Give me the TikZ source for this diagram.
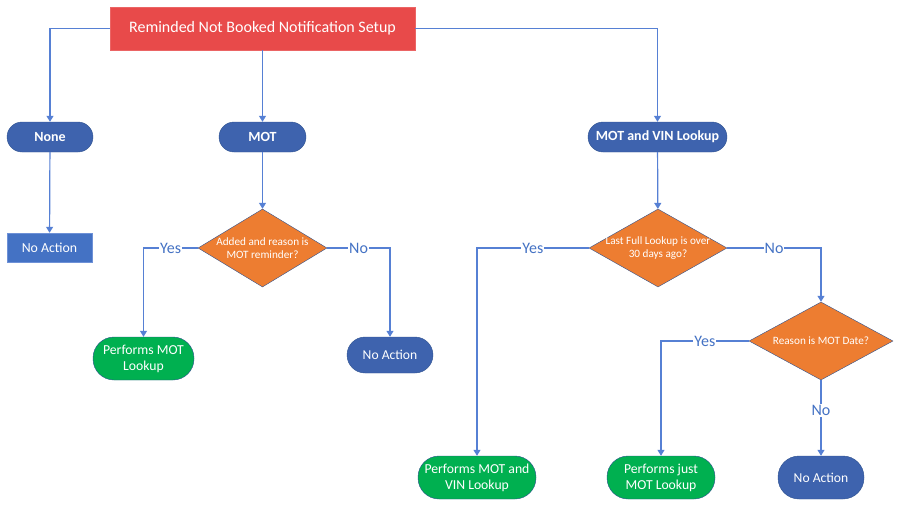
\documentclass[tikz,border=0pt]{standalone}
\usepackage{fontspec}
\setmainfont{Carlito}
\usetikzlibrary{arrows.meta,shapes.geometric}
\definecolor{redbox}{RGB}{232,74,74}
\definecolor{blueD}{RGB}{62,99,174}
\definecolor{blueR}{RGB}{68,114,196}
\definecolor{blueRb}{RGB}{110,145,215}
\definecolor{edgeB}{RGB}{47,82,143}
\definecolor{lineB}{RGB}{86,128,212}
\definecolor{orangeD}{RGB}{237,125,49}
\definecolor{greenP}{RGB}{0,176,80}
\definecolor{lblB}{RGB}{68,114,196}
\tikzset{
  topbox/.style={draw=redbox!85!white, fill=redbox, text=white, minimum width=305pt, minimum height=43pt, inner sep=0pt, font=\fontsize{16}{19}\selectfont},
  pill/.style={draw=edgeB, fill=blueD, text=white, rounded corners=15pt, minimum height=30pt, inner sep=0pt, font=\bfseries\fontsize{14}{17}\selectfont},
  endpill/.style={draw=edgeB, fill=blueD, text=white, minimum width=86pt, inner sep=0pt, font=\fontsize{13.6}{16}\selectfont},
  rectact/.style={draw=blueRb, fill=blueR, text=white, minimum width=85pt, minimum height=29pt, inner sep=0pt, font=\fontsize{13.8}{16}\selectfont},
  greenpill/.style={draw=edgeB, fill=greenP, text=white, rounded corners=21pt, minimum height=43pt, inner sep=0pt, align=center, font=\fontsize{13.7}{16}\selectfont},
  dec/.style={diamond, draw=edgeB, fill=orangeD, inner sep=0pt},
  dectext/.style={text=white, align=center, font=\fontsize{11.2}{13.5}\selectfont},
  arr/.style={draw=lineB, line width=1.2pt, -{Triangle[width=7pt,length=6pt]}},
  yn/.style={fill=white, text=lblB, inner sep=1pt, font=\fontsize{16}{18}\selectfont},
}
\begin{document}
\begin{tikzpicture}[x=1pt,y=-1pt]
\useasboundingbox (0,0) rectangle (900,506);
\node[topbox] (top) at (262.5,28.5) {Reminded Not Booked Notification Setup};
\node[pill, minimum width=86pt] (none) at (50,137) {None};
\node[pill, minimum width=87pt] (mot) at (262.5,137) {MOT};
\node[pill, minimum width=139pt] (mvl) at (657.5,137) {MOT and VIN Lookup};
\node[rectact] (na1) at (49.5,247.5) {No Action};
\node[dec, minimum width=129pt, minimum height=78pt] (d1) at (262.5,248) {};
\node[dectext] (d1t) at (d1) {Added and reason is\\MOT reminder?};
\node[greenpill, minimum width=101pt] (pm1) at (143.5,358.5) {Performs MOT\\Lookup};
\node[endpill, rounded corners=18pt, minimum height=36pt] (na2) at (390,355) {No Action};
\node[dec, minimum width=138pt, minimum height=78pt] (d2) at (658,248) {};
\node[dectext] (d2t) at (d2) {Last Full Lookup is over\\30 days ago?};
\node[greenpill, minimum width=118pt] (pm2) at (477,477.5) {Performs MOT and\\VIN Lookup};
\node[dec, minimum width=144pt, minimum height=78pt] (d3) at (821,341) {};
\node[dectext] (d3t) at (d3) {Reason is MOT Date?};
\node[greenpill, minimum width=108pt] (pm3) at (661,477.5) {Performs just\\MOT Lookup};
\node[endpill, rounded corners=21pt, minimum height=43pt] (na3) at (821,477.5) {No Action};

\draw[arr] (top.west) -| (none);
\draw[arr] (top) -- (mot);
\draw[arr] (top.east) -| (mvl);
\draw[arr] (none) -- (na1);
\draw[arr] (mot) -- (d1);
\draw[arr] (d1.west) -| node[yn, pos=0.25] {Yes} (pm1);
\draw[arr] (d1.east) -| node[yn, pos=0.25] {No} (na2);
\draw[arr] (mvl) -- (d2);
\draw[arr] (d2.west) -| node[yn, pos=0.25] {Yes} (pm2);
\draw[arr] (d2.east) -| node[yn, pos=0.25] {No} (d3);
\draw[arr] (d3.west) -| node[yn, pos=0.25] {Yes} (pm3);
\draw[arr] (d3) -- node[yn, pos=0.4] {No} (na3);
\end{tikzpicture}
\end{document}
